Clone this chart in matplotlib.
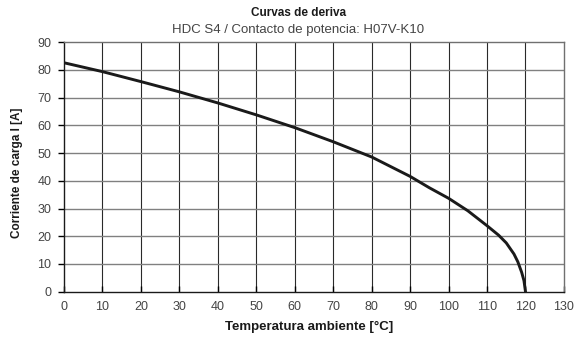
import matplotlib
matplotlib.use("Agg")
import matplotlib.pyplot as plt

# Curva de deriva: temperatura ambiente (°C) frente a corriente de carga (A)
temperatura = [0, 10, 20, 30, 40, 50, 60, 70, 80, 90, 95, 100, 105, 110,
               113, 115, 117, 118, 119, 119.6, 120]
corriente = [82.6, 79.4, 75.8, 72.1, 68.1, 63.8, 59.2, 54.1, 48.6, 41.6, 37.5,
             33.7, 29.2, 23.8, 20.4, 17.6, 13.6, 10.8, 7.0, 4.0, 0]

x_ticks = list(range(0, 131, 10))
y_ticks = list(range(0, 91, 10))

plt.rcParams["font.family"] = ["Liberation Sans", "DejaVu Sans"]

fig = plt.figure(figsize=(5.74, 3.38), dpi=100)
ax = fig.add_axes([0.1115, 0.137, 0.871, 0.738])

ax.set_xlim(0, 130)
ax.set_ylim(0, 90)
ax.set_xticks(x_ticks)
ax.set_yticks(y_ticks)

# rejilla: verticales oscuras, horizontales grises
for xv in x_ticks[1:-1]:
    ax.axvline(xv, color="#2a2a2a", lw=0.8, zorder=1)
for yv in y_ticks[1:-1]:
    ax.axhline(yv, color="#808080", lw=1.0, zorder=1)

ax.plot(temperatura, corriente, color="#1a1a1a", lw=2.1, zorder=3,
        solid_joinstyle="round")

for side in ("left", "bottom"):
    ax.spines[side].set_color("#1a1a1a")
    ax.spines[side].set_linewidth(1.0)
for side in ("right", "top"):
    ax.spines[side].set_color("#707070")
    ax.spines[side].set_linewidth(1.0)

ax.tick_params(axis="y", direction="out", length=4, width=1.0,
               labelsize=9, labelcolor="#444444", pad=5)
ax.tick_params(axis="x", direction="in", length=4, width=1.0,
               labelsize=9, labelcolor="#444444", pad=6.5)

fig.text(0.539, 0.033, "Temperatura ambiente [°C]", ha="center",
         va="center", fontsize=9.5, fontweight="bold", color="#1a1a1a")
fig.text(0.030, 0.49, "Corriente de carga I [A]", ha="center",
         va="center", rotation=90, fontsize=8.5, fontweight="bold",
         color="#1a1a1a")

fig.text(0.521, 0.962, "Curvas de deriva", ha="center", va="center",
         fontsize=8.5, fontweight="bold", color="#1a1a1a")
fig.text(0.520, 0.910, "HDC S4 / Contacto de potencia: H07V-K10",
         ha="center", va="center", fontsize=9.5, color="#444444")

fig.savefig("out.png", dpi=100, facecolor="white")
